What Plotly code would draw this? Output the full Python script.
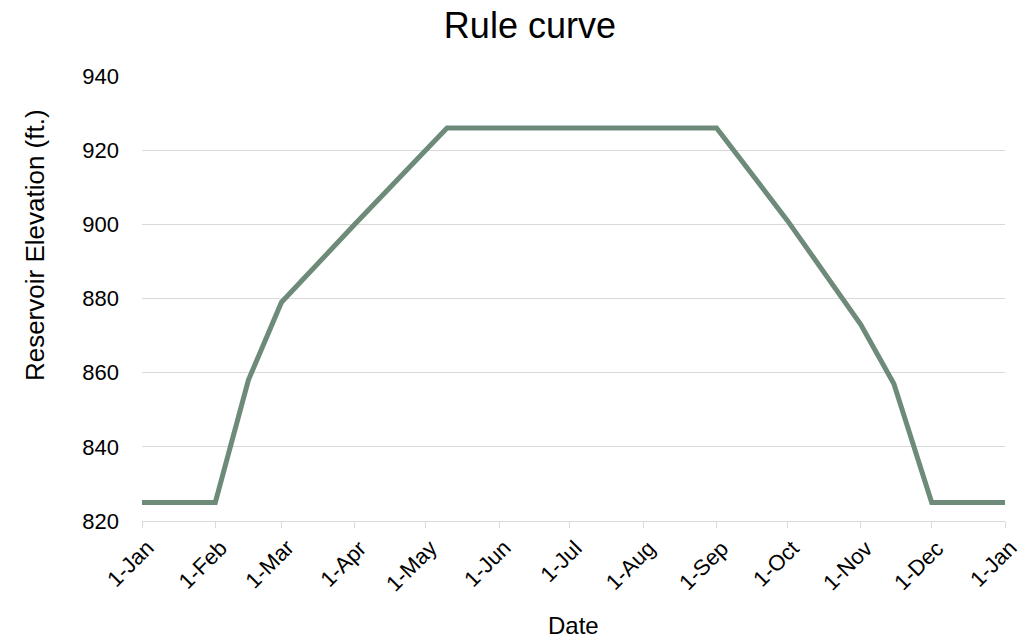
import plotly.graph_objects as go

# Rule curve: target reservoir elevation through the year
dates = [
    "2023-01-01", "2023-02-01", "2023-02-15", "2023-03-01", "2023-04-01",
    "2023-05-01", "2023-05-10", "2023-09-01", "2023-10-01", "2023-11-01",
    "2023-11-15", "2023-12-01", "2024-01-01",
]
elevation_ft = [825, 825, 858, 879, 900, 920, 926, 926, 901, 873, 857, 825, 825]

tick_dates = [
    "2023-01-01", "2023-02-01", "2023-03-01", "2023-04-01", "2023-05-01",
    "2023-06-01", "2023-07-01", "2023-08-01", "2023-09-01", "2023-10-01",
    "2023-11-01", "2023-12-01", "2024-01-01",
]
tick_labels = ["1-Jan", "1-Feb", "1-Mar", "1-Apr", "1-May", "1-Jun", "1-Jul",
               "1-Aug", "1-Sep", "1-Oct", "1-Nov", "1-Dec", "1-Jan"]

FONT = "Liberation Sans, Arial, sans-serif"
GRID = "#D9D9D9"

fig = go.Figure()
fig.add_trace(go.Scatter(
    x=dates, y=elevation_ft, mode="lines",
    line=dict(color="#6E8B79", width=5),
    hoverinfo="x+y", showlegend=False,
))

fig.update_layout(
    width=1021, height=639,
    margin=dict(l=142, r=16, t=76, b=118),
    paper_bgcolor="white", plot_bgcolor="white",
    font=dict(family=FONT, color="#000000"),
    title=dict(text="Rule curve", font=dict(size=36, color="#000000"),
               xref="container", x=0.519, xanchor="center",
               yref="container", y=0.961, yanchor="middle"),
)

fig.update_xaxes(
    type="date", range=["2023-01-01", "2024-01-01"],
    tickvals=tick_dates, showticklabels=False, automargin=False,
    showgrid=False, zeroline=False,
    showline=True, linecolor=GRID, linewidth=1,
    ticks="outside", ticklen=6, tickcolor=GRID, tickwidth=1,
)
fig.update_yaxes(
    range=[820, 940], dtick=20, tick0=820, automargin=False,
    tickfont=dict(size=22, color="#000000"),
    showgrid=True, gridcolor=GRID, gridwidth=1,
    zeroline=False, showline=False, ticks="", ticklabelstandoff=22,
)

# Month labels, rotated 45 degrees and hung below each tick
for d, lab in zip(tick_dates, tick_labels):
    fig.add_annotation(
        text=lab, textangle=-45, x=d, y=0, xref="x", yref="paper",
        xanchor="right", yanchor="top", xshift=18, yshift=-13,
        showarrow=False, borderpad=0, font=dict(size=22, color="#000000"),
    )

fig.add_annotation(
    text="Reservoir Elevation (ft.)", textangle=-90,
    xref="paper", yref="paper", x=-0.124, y=0.62,
    xanchor="center", yanchor="middle", showarrow=False,
    font=dict(size=26, color="#000000"),
)
fig.add_annotation(
    text="Date", xref="paper", yref="paper", x=0.5, y=-0.234,
    xanchor="center", yanchor="middle", showarrow=False,
    font=dict(size=24, color="#000000"),
)

fig.write_html("out.html")
